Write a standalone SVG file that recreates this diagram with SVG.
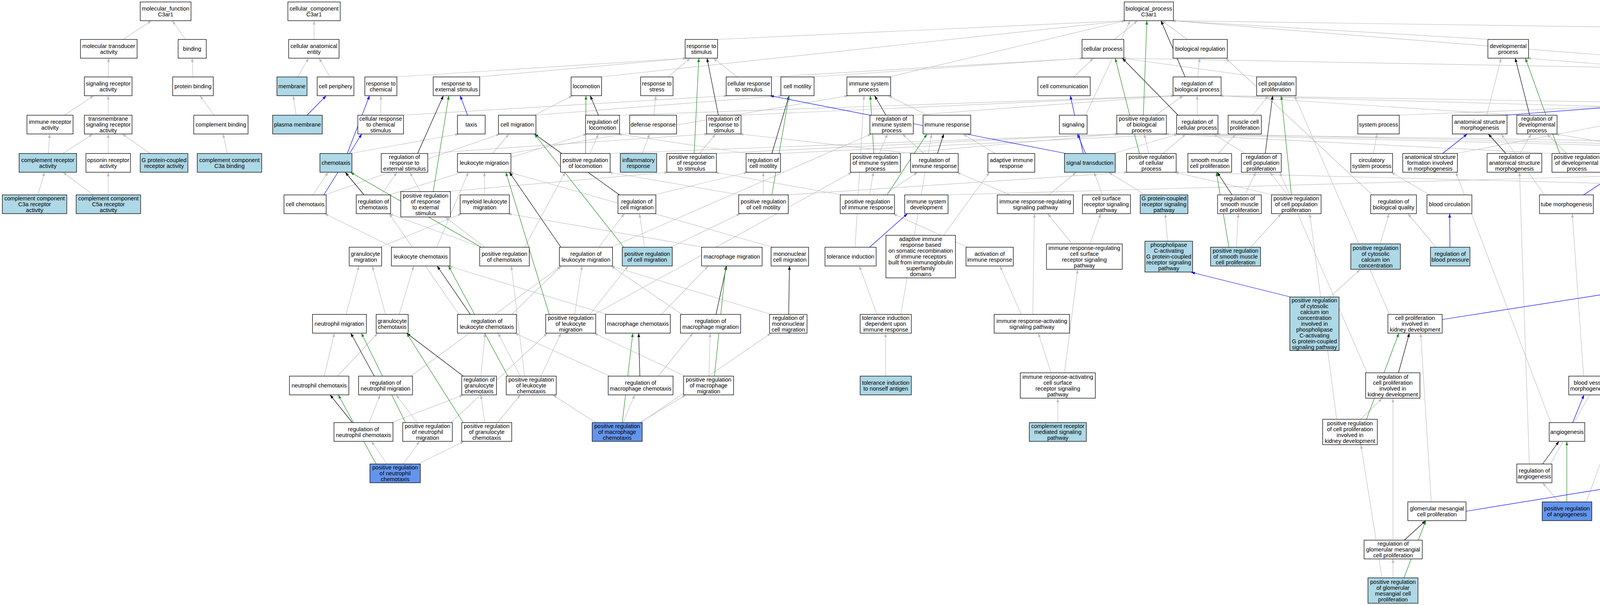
<svg xmlns="http://www.w3.org/2000/svg" width="7492" height="1549" viewBox="0 0 7492 1549">
<style>
text{font-family:"Liberation Sans",Arial,sans-serif;font-size:14.5px;text-anchor:middle;fill:#000}
.nodes rect{fill:#fff;stroke:#000;stroke-width:1.3}
.nodes rect.lb{fill:#ADD8E6}
.nodes rect.cb{fill:#6495ED}
#connectors path{fill:none;stroke-width:1.2}
.g path{stroke:#BEBEBE;marker-end:url(#ag)}
.k path{stroke:#000;marker-end:url(#ak)}
.p path{stroke:#228B22;marker-end:url(#ap)}
.b path{stroke:#0000FF;marker-end:url(#ab)}
</style>
<defs>
<marker id="ag" viewBox="0 0 10 7" refX="10" refY="3.5" markerWidth="10" markerHeight="7" markerUnits="userSpaceOnUse" orient="auto"><path d="M0,0L10,3.5L0,7z" fill="#BEBEBE"/></marker>
<marker id="ak" viewBox="0 0 10 7" refX="10" refY="3.5" markerWidth="10" markerHeight="7" markerUnits="userSpaceOnUse" orient="auto"><path d="M0,0L10,3.5L0,7z" fill="#000"/></marker>
<marker id="ap" viewBox="0 0 10 7" refX="10" refY="3.5" markerWidth="10" markerHeight="7" markerUnits="userSpaceOnUse" orient="auto"><path d="M0,0L10,3.5L0,7z" fill="#228B22"/></marker>
<marker id="ab" viewBox="0 0 10 7" refX="10" refY="3.5" markerWidth="10" markerHeight="7" markerUnits="userSpaceOnUse" orient="auto"><path d="M0,0L10,3.5L0,7z" fill="#0000FF"/></marker>
</defs>
<rect width="7492" height="1549" fill="#fff"/>
<g id="connectors">
<g class="g">
<path d="M315,101L388,53"/><path d="M475,101L441,53"/><path d="M277,197L278,149"/><path d="M494,197L492,149"/><path d="M804,101L804,53"/><path d="M762,197L790,149"/><path d="M845,197L817,149"/><path d="M165,295L240,245"/><path d="M277,295L277,245"/><path d="M548,295L512,245"/><path d="M758,295L751,245"/><path d="M975,295L975,245"/><path d="M124,393L127,343"/><path d="M161,393L238,343"/><path d="M277,393L277,343"/><path d="M384,393L313,343"/><path d="M582,393L571,343"/><path d="M97,499L114,441"/><path d="M239,499L161,441"/><path d="M277,499L277,441"/>
<path d="M1029,295L1863,245"/><path d="M1012,197L1758,149"/><path d="M1224,197L1758,149"/><path d="M1710,197L1767,149"/><path d="M1887,197L1826,149"/><path d="M1971,197L2774,149"/><path d="M897,393L1175,343"/><path d="M801,499L840,441"/><path d="M831,499L1280,343"/><path d="M1091,393L1813,343"/><path d="M976,499L1016,441"/><path d="M996,499L1503,343"/><path d="M1076,490L1049,441"/><path d="M1149,490L1711,441"/><path d="M1261,393L1303,343"/><path d="M1304,393L2172,245"/><path d="M1241,499L1240,441"/><path d="M973,633L1182,547"/><path d="M1118,633L1199,441"/><path d="M1006,633L831,547"/><path d="M1232,633L996,547"/><path d="M1241,633L1140,556"/><path d="M1343,633L1447,441"/><path d="M886,805L919,681"/><path d="M987,805L953,681"/><path d="M1022,805L1059,681"/><path d="M830,963L856,853"/><path d="M864,963L967,853"/><path d="M1310,805L1437,681"/><path d="M1175,805L996,547"/><path d="M1052,963L1436,681"/><path d="M1231,963L1242,853"/><path d="M945,1082L973,1011"/><path d="M1002,1082L1186,1011"/><path d="M1068,1082L1014,1011"/><path d="M1154,1082L1401,853"/><path d="M1241,1082L1231,1011"/><path d="M1274,1082L1332,1011"/><path d="M991,1188L951,1130"/><path d="M1032,1188L1074,1130"/><path d="M1070,1188L1188,1130"/>
<path d="M1833,101L2882,53"/><path d="M1536,197L2882,53"/><path d="M2080,197L2774,149"/><path d="M1368,295L2003,245"/><path d="M1368,295L1466,245"/><path d="M1582,295L3007,245"/><path d="M2276,197L2882,53"/><path d="M1674,295L1679,245"/><path d="M1893,295L3007,245"/><path d="M2334,295L3007,245"/><path d="M2374,295L2274,245"/><path d="M1510,393L1532,343"/><path d="M1558,393L2863,343"/><path d="M1644,393L1663,343"/><path d="M1791,393L1832,343"/><path d="M1830,393L2863,343"/><path d="M1914,393L1582,343"/><path d="M1994,393L3016,343"/><path d="M2251,393L2272,343"/><path d="M2301,393L2863,343"/><path d="M2365,393L2310,343"/><path d="M2335,393L1893,343"/><path d="M1675,499L1914,441"/><path d="M1954,499L1954,441"/><path d="M1895,499L1558,441"/><path d="M2014,499L2888,441"/><path d="M2263,499L2349,441"/><path d="M2226,499L2236,441"/><path d="M2155,499L1830,441"/><path d="M2423,499L4472,441"/><path d="M1533,633L1598,547"/><path d="M1564,633L2231,343"/><path d="M1650,633L1637,547"/><path d="M1717,633L1895,547"/><path d="M1800,633L1300,547"/><path d="M1978,633L1304,441"/><path d="M2189,633L2212,245"/><path d="M2415,603L2533,441"/><path d="M2477,633L2286,547"/><path d="M1471,805L1490,681"/><path d="M1510,805L1608,681"/><path d="M1521,805L2181,441"/><path d="M1693,805L1813,681"/><path d="M1554,805L1148,681"/><path d="M1746,805L1564,681"/><path d="M1974,805L1564,681"/><path d="M2245,805L2200,681"/><path d="M2306,805L2385,343"/><path d="M1332,963L1275,853"/><path d="M1385,963L1436,853"/><path d="M1343,963L1309,681"/><path d="M1685,963L1774,853"/><path d="M1561,963L1318,853"/><path d="M1815,963L1818,853"/><path d="M1754,963L1521,853"/><path d="M2267,963L2267,853"/><path d="M1595,1082L1625,1011"/><path d="M1638,1082L1756,1011"/><path d="M1525,1082L1415,1011"/><path d="M1640,1082L1974,853"/>
<path d="M2853,101L2912,53"/><path d="M3040,101L2974,53"/><path d="M3813,101L3000,53"/><path d="M6340,101L3000,53"/><path d="M4803,197L3000,53"/><path d="M2779,295L2893,53"/><path d="M3221,197L2873,149"/><path d="M2749,197L2799,149"/><path d="M3066,197L3071,149"/><path d="M2958,295L3029,245"/><path d="M3065,295L3065,245"/><path d="M3207,295L3247,245"/><path d="M3578,295L4803,245"/><path d="M3806,295L3843,149"/><path d="M2851,393L3016,343"/><path d="M2941,393L2929,343"/><path d="M2977,393L3036,343"/><path d="M3119,393L3164,343"/><path d="M3188,393L3106,343"/><path d="M3516,393L3525,343"/><path d="M3727,393L4505,245"/><path d="M2548,393L2465,343"/><path d="M2586,499L2449,441"/><path d="M2685,499L2755,441"/><path d="M2822,499L2801,441"/><path d="M2932,499L2838,441"/><path d="M3187,499L3215,441"/><path d="M3296,499L3251,441"/><path d="M3259,499L3007,441"/><path d="M3513,499L3138,149"/><path d="M3660,499L3561,441"/><path d="M2745,625L2682,547"/><path d="M2790,625L2818,547"/><path d="M2989,618L2983,547"/><path d="M3165,633L3170,547"/><path d="M3202,633L3280,547"/><path d="M3533,625L3556,547"/><path d="M3676,633L3604,547"/><path d="M3404,761L3482,690"/><path d="M2644,805L2648,547"/><path d="M2614,805L2560,681"/><path d="M2691,955L2658,853"/><path d="M2725,955L2759,690"/><path d="M2708,1082L2708,1020"/><path d="M3557,805L3314,245"/><path d="M3500,955L3276,441"/><path d="M3483,1074L3538,1020"/><path d="M3422,1074L3353,547"/><path d="M3664,1285L3637,853"/><path d="M3566,1383L3566,1020"/><path d="M3566,1480L3566,1431"/><path d="M3538,1480L3484,1139"/>
<path d="M4505,197L3909,149"/><path d="M3887,295L3122,245"/><path d="M4466,295L4536,245"/><path d="M4505,295L4803,245"/><path d="M4692,295L4612,245"/><path d="M4908,295L3122,245"/><path d="M3891,393L3920,343"/><path d="M4011,393L3960,343"/><path d="M3977,393L2982,343"/><path d="M4245,393L4505,245"/><path d="M4279,393L3982,343"/><path d="M4438,393L4908,343"/><path d="M4547,393L4563,245"/><path d="M4970,393L4970,343"/><path d="M4908,393L2982,343"/><path d="M3954,499L3843,343"/><path d="M4398,499L4492,441"/><path d="M4619,499L4566,441"/><path d="M4359,633L4508,245"/><path d="M4718,633L4728,343"/><path d="M4240,805L4319,441"/><path d="M4327,805L4232,441"/><path d="M4547,805L4359,681"/><path d="M4054,963L4025,547"/><path d="M4208,963L4203,853"/><path d="M4270,963L4908,441"/><path d="M4436,963L4526,245"/><path d="M4596,963L4591,853"/><path d="M4731,963L4624,245"/><path d="M3970,1082L3727,441"/><path d="M4390,1082L4390,1011"/><path d="M4582,1082L4593,1011"/><path d="M4524,1082L4411,853"/><path d="M3915,1188L3890,441"/><path d="M3969,1188L4159,853"/><path d="M4390,1188L4390,1130"/><path d="M3991,1285L3949,1236"/><path d="M4061,1285L4161,1011"/>
<path d="M5536,197L6340,149"/><path d="M5423,197L2873,149"/><path d="M6083,197L6340,149"/><path d="M5421,295L5460,245"/><path d="M5467,295L6005,245"/><path d="M5538,295L5499,245"/><path d="M5658,295L5536,245"/><path d="M5817,295L5536,245"/><path d="M5950,295L6691,245"/><path d="M6220,295L6379,245"/><path d="M5281,393L6253,343"/><path d="M5166,393L3114,343"/><path d="M5442,393L5519,343"/><path d="M5403,393L5402,343"/><path d="M5584,393L5673,343"/><path d="M5505,393L5436,343"/><path d="M5755,393L5841,343"/><path d="M5637,393L5467,343"/><path d="M5820,393L5616,343"/><path d="M5848,393L5761,343"/><path d="M5890,393L5886,343"/><path d="M5957,393L6089,343"/><path d="M6129,393L6256,343"/><path d="M6216,393L6174,343"/><path d="M6293,393L6405,343"/><path d="M5288,499L5245,441"/><path d="M5368,499L6345,441"/><path d="M5250,499L3007,441"/><path d="M5527,499L5281,441"/><path d="M5656,499L6049,441"/><path d="M5796,499L5860,441"/><path d="M5690,499L5442,441"/><path d="M5708,499L5595,441"/><path d="M5751,499L5725,441"/><path d="M5839,499L6162,441"/><path d="M5925,490L5281,441"/><path d="M6069,490L6650,441"/><path d="M6144,499L6107,441"/><path d="M6222,499L6345,441"/><path d="M5592,625L5592,547"/><path d="M5533,625L5368,547"/><path d="M5651,625L6103,547"/><path d="M5997,625L5997,556"/><path d="M5917,625L5368,547"/><path d="M6078,625L6256,556"/>
<path d="M6428,197L6408,149"/><path d="M6691,197L6457,149"/><path d="M6253,295L3122,245"/><path d="M6456,295L6443,245"/><path d="M6404,295L6083,245"/><path d="M6605,295L6457,149"/><path d="M7037,295L6496,245"/><path d="M6382,393L6335,343"/><path d="M6345,393L2982,343"/><path d="M6499,393L6370,343"/><path d="M6650,393L6370,343"/><path d="M6953,393L7049,343"/><path d="M6858,393L6519,343"/><path d="M6989,393L6370,343"/><path d="M7292,393L7155,343"/><path d="M6389,490L6650,441"/><path d="M6343,490L6384,441"/><path d="M6572,490L6989,441"/><path d="M6475,490L6129,441"/><path d="M6656,499L5964,441"/><path d="M6773,499L7037,343"/><path d="M6948,499L7014,441"/><path d="M6856,499L6465,441"/><path d="M7058,499L7051,441"/><path d="M7344,499L7344,441"/><path d="M6646,633L6692,547"/><path d="M6755,625L6572,556"/><path d="M6840,625L6890,547"/><path d="M6755,625L6222,547"/><path d="M7053,633L7059,547"/><path d="M7016,633L6949,547"/><path d="M7171,633L7098,547"/><path d="M7401,633L7363,547"/><path d="M6390,805L6576,681"/><path d="M6390,805L6858,441"/><path d="M6525,805L6069,556"/><path d="M7168,805L7195,681"/><path d="M7096,805L5033,441"/><path d="M7287,797L7234,681"/><path d="M6467,963L6537,853"/><path d="M6455,963L6500,556"/><path d="M6579,963L6575,853"/><path d="M6641,963L6856,547"/><path d="M7313,948L7313,861"/><path d="M7274,948L7195,853"/><path d="M6432,1082L6432,1011"/><path d="M6470,1082L6544,1011"/><path d="M6496,1082L6755,690"/><path d="M6369,1082L5651,690"/>
</g>
<g class="k">
<path d="M3034,197L2972,53"/><path d="M3016,295L2873,149"/><path d="M1069,393L1135,245"/><path d="M932,499L884,441"/><path d="M1204,805L1119,681"/><path d="M1186,963L1041,853"/><path d="M958,963L898,853"/><path d="M902,1082L845,1011"/><path d="M1532,295L1511,245"/><path d="M1839,295L1810,149"/><path d="M1976,393L2020,245"/><path d="M1586,499L1368,343"/><path d="M1436,633L1304,441"/><path d="M2268,295L2239,245"/><path d="M2400,393L2416,343"/><path d="M1833,805L1860,681"/><path d="M2019,805L2021,681"/><path d="M1638,963L1635,853"/><path d="M3239,393L3258,245"/><path d="M3154,499L3116,441"/><path d="M3580,955L3608,853"/><path d="M3595,1383L3650,1333"/><path d="M3916,295L3879,149"/><path d="M3855,393L3810,343"/><path d="M4376,393L4412,343"/><path d="M4944,295L4892,245"/><path d="M4230,805L4289,681"/><path d="M3949,1188L3991,1130"/><path d="M5281,393L5423,245"/><path d="M5544,499L5449,343"/><path d="M5971,490L5918,441"/><path d="M6078,393L6055,245"/><path d="M6333,295L6377,149"/><path d="M6584,393L6637,343"/><path d="M6722,393L6742,245"/><path d="M6572,490L6858,441"/><path d="M7059,393L7084,343"/><path d="M7113,499L7292,441"/><path d="M7241,633L7310,547"/><path d="M7340,797L7393,681"/><path d="M6585,805L6611,681"/><path d="M6408,963L6359,853"/>
</g>
<g class="p">
<path d="M2927,295L2936,53"/><path d="M2917,393L2855,149"/><path d="M1109,490L1149,245"/><path d="M1232,633L897,441"/><path d="M1300,963L1148,681"/><path d="M1186,1082L1041,853"/><path d="M1038,1082L925,853"/><path d="M963,1188L866,1011"/><path d="M1499,393L1500,245"/><path d="M1777,393L1789,149"/><path d="M1976,499L2020,245"/><path d="M1597,633L1368,343"/><path d="M1406,805L1295,441"/><path d="M2237,393L2228,245"/><path d="M2271,499L2373,343"/><path d="M1829,963L1858,681"/><path d="M1593,1082L1620,853"/><path d="M3306,499L3280,245"/><path d="M3146,633L3114,441"/><path d="M3498,1074L3581,853"/><path d="M3594,1480L3650,1333"/><path d="M3993,393L3905,149"/><path d="M4944,393L4892,245"/><path d="M4237,963L4291,681"/><path d="M4011,1285L4011,1130"/><path d="M5352,499L5437,245"/><path d="M5544,625L5449,343"/><path d="M5971,625L5918,441"/><path d="M6133,499L6074,245"/><path d="M6403,393L6400,149"/><path d="M6389,490L6691,245"/><path d="M6960,499L7051,343"/><path d="M6838,625L6884,441"/><path d="M7111,633L7292,441"/><path d="M7202,805L7297,547"/><path d="M7340,948L7393,681"/><path d="M6592,963L6613,681"/><path d="M6408,1082L6359,853"/>
</g>
<g class="b">
<path d="M786,295L835,245"/><path d="M1197,295L1178,245"/><path d="M889,393L946,245"/><path d="M829,499L926,343"/><path d="M2779,393L2758,343"/><path d="M2773,393L2740,245"/><path d="M2729,393L1971,245"/><path d="M2226,633L2323,547"/><path d="M3306,761L3049,697"/><path d="M3712,633L3711,547"/><path d="M3854,295L4505,245"/><path d="M3693,393L3756,343"/><path d="M4245,393L4370,343"/><path d="M4512,393L4458,343"/><path d="M4054,499L4142,441"/><path d="M4326,633L4343,547"/><path d="M4697,633L4663,547"/><path d="M4356,805L4331,681"/><path d="M4603,805L4632,547"/><path d="M4766,805L4731,681"/><path d="M4118,963L4327,853"/><path d="M4627,963L4685,681"/><path d="M4784,963L4784,853"/><path d="M4026,1082L4055,1011"/><path d="M4628,1082L4732,1011"/><path d="M4436,1188L4530,1130"/><path d="M3753,1309L4311,1218"/><path d="M3692,818L4644,670"/>
</g>
</g>
<g class="nodes">
<g id="mf"><rect x="359" y="5" width="130" height="48"/><text x="424" y="26.5">molecular_function<tspan x="424" dy="15">C3ar1</tspan></text></g>
<g id="cc"><rect x="737" y="5" width="134" height="48"/><text x="804" y="26.5">cellular_component<tspan x="804" dy="15">C3ar1</tspan></text></g>
<g id="mta"><rect x="206" y="101" width="145" height="48"/><text x="278.5" y="122.5">molecular transducer<tspan x="278.5" dy="15">activity</tspan></text></g>
<g id="bind"><rect x="456" y="101" width="72" height="48"/><text x="492" y="130">binding</text></g>
<g id="cae"><rect x="739" y="101" width="129" height="48"/><text x="803.5" y="122.5">cellular anatomical<tspan x="803.5" dy="15">entity</tspan></text></g>
<g id="sra"><rect x="216" y="197" width="122" height="48"/><text x="277" y="218.5">signaling receptor<tspan x="277" dy="15">activity</tspan></text></g>
<g id="pb"><rect x="442" y="197" width="104" height="48"/><text x="494" y="226">protein binding</text></g>
<g id="mem"><rect class="lb" x="709" y="197" width="77" height="48"/><text x="747.5" y="226">membrane</text></g>
<g id="cp"><rect x="812" y="197" width="94" height="48"/><text x="859" y="226">cell periphery</text></g>
<g id="rchem"><rect x="934" y="197" width="82" height="48"/><text x="975" y="218.5">response to<tspan x="975" dy="15">chemical</tspan></text></g>
<g id="rext"><rect x="1109" y="197" width="119" height="48"/><text x="1168.5" y="218.5">response to<tspan x="1168.5" dy="15">external stimulus</tspan></text></g>
<g id="ira"><rect x="69" y="295" width="118" height="48"/><text x="128" y="316.5">immune receptor<tspan x="128" dy="15">activity</tspan></text></g>
<g id="tsra"><rect x="216" y="295" width="122" height="48"/><text x="277" y="309">transmembrane<tspan x="277" dy="15">signaling receptor</tspan><tspan x="277" dy="15">activity</tspan></text></g>
<g id="cbind"><rect x="496" y="295" width="139" height="48"/><text x="565.5" y="324">complement binding</text></g>
<g id="pm"><rect class="lb" x="698" y="295" width="127" height="48"/><text x="761.5" y="324">plasma membrane</text></g>
<g id="crchem"><rect x="916" y="295" width="117" height="48"/><text x="974.5" y="309">cellular response<tspan x="974.5" dy="15">to chemical</tspan><tspan x="974.5" dy="15">stimulus</tspan></text></g>
<g id="taxis"><rect x="1171" y="295" width="71" height="48"/><text x="1206.5" y="324">taxis</text></g>
<g id="cra"><rect class="lb" x="49" y="393" width="147" height="48"/><text x="122.5" y="414.5">complement receptor<tspan x="122.5" dy="15">activity</tspan></text></g>
<g id="ora"><rect x="220" y="393" width="114" height="48"/><text x="277" y="414.5">opsonin receptor<tspan x="277" dy="15">activity</tspan></text></g>
<g id="gpcra"><rect class="lb" x="359" y="393" width="122" height="48"/><text x="420" y="414.5">G protein-coupled<tspan x="420" dy="15">receptor activity</tspan></text></g>
<g id="c3ab"><rect class="lb" x="505" y="393" width="165" height="48"/><text x="587.5" y="414.5">complement component<tspan x="587.5" dy="15">C3a binding</tspan></text></g>
<g id="chemo"><rect class="lb" x="819" y="393" width="82" height="48"/><text x="860" y="422">chemotaxis</text></g>
<g id="rrext"><rect x="976" y="393" width="119" height="48"/><text x="1035.5" y="407">regulation of<tspan x="1035.5" dy="15">response to</tspan><tspan x="1035.5" dy="15">external stimulus</tspan></text></g>
<g id="lmig"><rect x="1171" y="393" width="137" height="48"/><text x="1239.5" y="422">leukocyte migration</text></g>
<g id="c3ar"><rect class="lb" x="6" y="499" width="165" height="48"/><text x="88.5" y="513">complement component<tspan x="88.5" dy="15">C3a receptor</tspan><tspan x="88.5" dy="15">activity</tspan></text></g>
<g id="c5ar"><rect class="lb" x="195" y="499" width="165" height="48"/><text x="277.5" y="513">complement component<tspan x="277.5" dy="15">C5a receptor</tspan><tspan x="277.5" dy="15">activity</tspan></text></g>
<g id="cchemo"><rect x="727" y="499" width="108" height="48"/><text x="781" y="528">cell chemotaxis</text></g>
<g id="rchemo"><rect x="912" y="499" width="88" height="48"/><text x="956" y="520.5">regulation of<tspan x="956" dy="15">chemotaxis</tspan></text></g>
<g id="prrext"><rect x="1026" y="490.5" width="127" height="65"/><text x="1089.5" y="505.5">positive regulation<tspan x="1089.5" dy="15">of response</tspan><tspan x="1089.5" dy="15">to external</tspan><tspan x="1089.5" dy="15">stimulus</tspan></text></g>
<g id="mlmig"><rect x="1178" y="499" width="126" height="48"/><text x="1241" y="520.5">myeloid leukocyte<tspan x="1241" dy="15">migration</tspan></text></g>
<g id="gmig"><rect x="894" y="633" width="83" height="48"/><text x="935.5" y="654.5">granulocyte<tspan x="935.5" dy="15">migration</tspan></text></g>
<g id="lchemo"><rect x="1002" y="633" width="150" height="48"/><text x="1077" y="662">leukocyte chemotaxis</text></g>
<g id="prchemo"><rect x="1228" y="633" width="127" height="48"/><text x="1291.5" y="654.5">positive regulation<tspan x="1291.5" dy="15">of chemotaxis</tspan></text></g>
<g id="nmig"><rect x="800" y="805" width="138" height="48"/><text x="869" y="834">neutrophil migration</text></g>
<g id="gchemo"><rect x="963" y="805" width="82" height="48"/><text x="1004" y="826.5">granulocyte<tspan x="1004" dy="15">chemotaxis</tspan></text></g>
<g id="rlchemo"><rect x="1171" y="805" width="151" height="48"/><text x="1246.5" y="826.5">regulation of<tspan x="1246.5" dy="15">leukocyte chemotaxis</tspan></text></g>
<g id="nchemo"><rect x="741" y="963" width="152" height="48"/><text x="817" y="992">neutrophil chemotaxis</text></g>
<g id="rnmig"><rect x="918" y="963" width="138" height="48"/><text x="987" y="984.5">regulation of<tspan x="987" dy="15">neutrophil migration</tspan></text></g>
<g id="rgchemo"><rect x="1182" y="963" width="89" height="48"/><text x="1226.5" y="977">regulation of<tspan x="1226.5" dy="15">granulocyte</tspan><tspan x="1226.5" dy="15">chemotaxis</tspan></text></g>
<g id="rnchemo"><rect x="855" y="1082" width="151" height="48"/><text x="930.5" y="1103.5">regulation of<tspan x="930.5" dy="15">neutrophil chemotaxis</tspan></text></g>
<g id="prnmig"><rect x="1031" y="1082" width="127" height="48"/><text x="1094.5" y="1096">positive regulation<tspan x="1094.5" dy="15">of neutrophil</tspan><tspan x="1094.5" dy="15">migration</tspan></text></g>
<g id="prgchemo"><rect x="1182" y="1082" width="128" height="48"/><text x="1246" y="1096">positive regulation<tspan x="1246" dy="15">of granulocyte</tspan><tspan x="1246" dy="15">chemotaxis</tspan></text></g>
<g id="prnchemo"><rect class="cb" x="947" y="1188" width="129" height="48"/><text x="1011.5" y="1202">positive regulation<tspan x="1011.5" dy="15">of neutrophil</tspan><tspan x="1011.5" dy="15">chemotaxis</tspan></text></g>
<g id="rstim"><rect x="1754" y="101" width="83" height="48"/><text x="1795.5" y="122.5">response to<tspan x="1795.5" dy="15">stimulus</tspan></text></g>
<g id="loco"><rect x="1462" y="197" width="78" height="48"/><text x="1501" y="226">locomotion</text></g>
<g id="rstress"><rect x="1640" y="197" width="83" height="48"/><text x="1681.5" y="218.5">response to<tspan x="1681.5" dy="15">stress</tspan></text></g>
<g id="crstim"><rect x="1859" y="197" width="116" height="48"/><text x="1917" y="218.5">cellular response<tspan x="1917" dy="15">to stimulus</tspan></text></g>
<g id="cmot"><rect x="1999" y="197" width="85" height="48"/><text x="2041.5" y="226">cell motility</text></g>
<g id="isp"><rect x="2168" y="197" width="112" height="48"/><text x="2224" y="218.5">immune system<tspan x="2224" dy="15">process</tspan></text></g>
<g id="cmig"><rect x="1276" y="295" width="96" height="48"/><text x="1324" y="324">cell migration</text></g>
<g id="rloco"><rect x="1499" y="295" width="87" height="48"/><text x="1542.5" y="316.5">regulation of<tspan x="1542.5" dy="15">locomotion</tspan></text></g>
<g id="defr"><rect x="1612" y="295" width="120" height="48"/><text x="1672" y="324">defense response</text></g>
<g id="rrstim"><rect x="1809" y="295" width="88" height="48"/><text x="1853" y="309">regulation of<tspan x="1853" dy="15">response to</tspan><tspan x="1853" dy="15">stimulus</tspan></text></g>
<g id="risp"><rect x="2227" y="295" width="111" height="48"/><text x="2282.5" y="309">regulation of<tspan x="2282.5" dy="15">immune system</tspan><tspan x="2282.5" dy="15">process</tspan></text></g>
<g id="ir"><rect x="2363" y="295" width="122" height="48"/><text x="2424" y="324">immune response</text></g>
<g id="prloco"><rect x="1435" y="393" width="127" height="48"/><text x="1498.5" y="414.5">positive regulation<tspan x="1498.5" dy="15">of locomotion</tspan></text></g>
<g id="infl"><rect class="lb" x="1588" y="393" width="93" height="48"/><text x="1634.5" y="414.5">inflammatory<tspan x="1634.5" dy="15">response</tspan></text></g>
<g id="prrstim"><rect x="1707" y="393" width="127" height="48"/><text x="1770.5" y="407">positive regulation<tspan x="1770.5" dy="15">of response</tspan><tspan x="1770.5" dy="15">to stimulus</tspan></text></g>
<g id="rcmot"><rect x="1910" y="393" width="88" height="48"/><text x="1954" y="414.5">regulation of<tspan x="1954" dy="15">cell motility</tspan></text></g>
<g id="prisp"><rect x="2177" y="393" width="128" height="48"/><text x="2241" y="407">positive regulation<tspan x="2241" dy="15">of immune system</tspan><tspan x="2241" dy="15">process</tspan></text></g>
<g id="rir"><rect x="2331" y="393" width="122" height="48"/><text x="2392" y="414.5">regulation of<tspan x="2392" dy="15">immune response</tspan></text></g>
<g id="rcmig"><rect x="1582" y="499" width="97" height="48"/><text x="1630.5" y="520.5">regulation of<tspan x="1630.5" dy="15">cell migration</tspan></text></g>
<g id="prcmot"><rect x="1891" y="499" width="127" height="48"/><text x="1954.5" y="520.5">positive regulation<tspan x="1954.5" dy="15">of cell motility</tspan></text></g>
<g id="prir"><rect x="2151" y="499" width="139" height="48"/><text x="2220.5" y="520.5">positive regulation<tspan x="2220.5" dy="15">of immune response</tspan></text></g>
<g id="isd"><rect x="2316" y="499" width="111" height="48"/><text x="2371.5" y="520.5">immune system<tspan x="2371.5" dy="15">development</tspan></text></g>
<g id="rlmig"><rect x="1432" y="633" width="136" height="48"/><text x="1500" y="654.5">regulation of<tspan x="1500" dy="15">leukocyte migration</tspan></text></g>
<g id="prcmig"><rect class="lb" x="1593" y="633" width="128" height="48"/><text x="1657" y="654.5">positive regulation<tspan x="1657" dy="15">of cell migration</tspan></text></g>
<g id="mmig"><rect x="1796" y="633" width="155" height="48"/><text x="1873.5" y="662">macrophage migration</text></g>
<g id="mnmig"><rect x="1974" y="633" width="96" height="48"/><text x="2022" y="654.5">mononuclear<tspan x="2022" dy="15">cell migration</tspan></text></g>
<g id="tol"><rect x="2112" y="633" width="131" height="48"/><text x="2177.5" y="662">tolerance induction</text></g>
<g id="airsom"><rect x="2268" y="602.5" width="178" height="109"/><text x="2357" y="617">adaptive immune<tspan x="2357" dy="15">response based</tspan><tspan x="2357" dy="15">on somatic recombination</tspan><tspan x="2357" dy="15">of immune receptors</tspan><tspan x="2357" dy="15">built from immunoglobulin</tspan><tspan x="2357" dy="15">superfamily</tspan><tspan x="2357" dy="15">domains</tspan></text></g>
<g id="airact"><rect x="2473" y="633" width="121" height="48"/><text x="2533.5" y="654.5">activation of<tspan x="2533.5" dy="15">immune response</tspan></text></g>
<g id="prlmig"><rect x="1397" y="805" width="128" height="48"/><text x="1461" y="819">positive regulation<tspan x="1461" dy="15">of leukocyte</tspan><tspan x="1461" dy="15">migration</tspan></text></g>
<g id="mchemo"><rect x="1550" y="805" width="166" height="48"/><text x="1633" y="834">macrophage chemotaxis</text></g>
<g id="rmmig"><rect x="1742" y="805" width="154" height="48"/><text x="1819" y="826.5">regulation of<tspan x="1819" dy="15">macrophage migration</tspan></text></g>
<g id="rmnmig"><rect x="1970" y="805" width="96" height="48"/><text x="2018" y="819">regulation of<tspan x="2018" dy="15">mononuclear</tspan><tspan x="2018" dy="15">cell migration</tspan></text></g>
<g id="toldep"><rect x="2202" y="805" width="131" height="48"/><text x="2267.5" y="819">tolerance induction<tspan x="2267.5" dy="15">dependent upon</tspan><tspan x="2267.5" dy="15">immune response</tspan></text></g>
<g id="prlchemo"><rect x="1296" y="963" width="128" height="48"/><text x="1360" y="977">positive regulation<tspan x="1360" dy="15">of leukocyte</tspan><tspan x="1360" dy="15">chemotaxis</tspan></text></g>
<g id="rmchemo"><rect x="1557" y="963" width="166" height="48"/><text x="1640" y="984.5">regulation of<tspan x="1640" dy="15">macrophage chemotaxis</tspan></text></g>
<g id="prmmig"><rect x="1750" y="963" width="128" height="48"/><text x="1814" y="977">positive regulation<tspan x="1814" dy="15">of macrophage</tspan><tspan x="1814" dy="15">migration</tspan></text></g>
<g id="tolns"><rect class="lb" x="2202" y="963" width="131" height="48"/><text x="2267.5" y="984.5">tolerance induction<tspan x="2267.5" dy="15">to nonself antigen</tspan></text></g>
<g id="prmchemo"><rect class="cb" x="1516" y="1082" width="128" height="48"/><text x="1580" y="1096">positive regulation<tspan x="1580" dy="15">of macrophage</tspan><tspan x="1580" dy="15">chemotaxis</tspan></text></g>
<g id="bp"><rect x="2878" y="5" width="126" height="48"/><text x="2941" y="26.5">biological_process<tspan x="2941" dy="15">C3ar1</tspan></text></g>
<g id="cellp"><rect x="2770" y="101" width="107" height="48"/><text x="2823.5" y="130">cellular process</text></g>
<g id="bioreg"><rect x="3003" y="101" width="139" height="48"/><text x="3072.5" y="130">biological regulation</text></g>
<g id="ccomm"><rect x="2657" y="197" width="134" height="48"/><text x="2724" y="226">cell communication</text></g>
<g id="rbp"><rect x="3003" y="197" width="123" height="48"/><text x="3064.5" y="218.5">regulation of<tspan x="3064.5" dy="15">biological process</tspan></text></g>
<g id="cpp"><rect x="3217" y="197" width="101" height="48"/><text x="3267.5" y="218.5">cell population<tspan x="3267.5" dy="15">proliferation</tspan></text></g>
<g id="sig"><rect x="2712" y="295" width="71" height="48"/><text x="2747.5" y="324">signaling</text></g>
<g id="prbp"><rect x="2859" y="295" width="127" height="48"/><text x="2922.5" y="309">positive regulation<tspan x="2922.5" dy="15">of biological</tspan><tspan x="2922.5" dy="15">process</tspan></text></g>
<g id="rcellp"><rect x="3012" y="295" width="106" height="48"/><text x="3065" y="316.5">regulation of<tspan x="3065" dy="15">cellular process</tspan></text></g>
<g id="mcp"><rect x="3144" y="295" width="85" height="48"/><text x="3186.5" y="316.5">muscle cell<tspan x="3186.5" dy="15">proliferation</tspan></text></g>
<g id="sysp"><rect x="3476" y="295" width="106" height="48"/><text x="3529" y="324">system process</text></g>
<g id="asm"><rect x="3718" y="295" width="140" height="48"/><text x="3788" y="316.5">anatomical structure<tspan x="3788" dy="15">morphogenesis</tspan></text></g>
<g id="air"><rect x="2529" y="393" width="120" height="48"/><text x="2589" y="414.5">adaptive immune<tspan x="2589" dy="15">response</tspan></text></g>
<g id="st"><rect class="lb" x="2725" y="393" width="130" height="48"/><text x="2790" y="422">signal transduction</text></g>
<g id="prcellp"><rect x="2884" y="393" width="127" height="48"/><text x="2947.5" y="407">positive regulation<tspan x="2947.5" dy="15">of cellular</tspan><tspan x="2947.5" dy="15">process</tspan></text></g>
<g id="smcp"><rect x="3041" y="393" width="112" height="48"/><text x="3097" y="414.5">smooth muscle<tspan x="3097" dy="15">cell proliferation</tspan></text></g>
<g id="rcpp"><rect x="3178" y="393" width="102" height="48"/><text x="3229" y="407">regulation of<tspan x="3229" dy="15">cell population</tspan><tspan x="3229" dy="15">proliferation</tspan></text></g>
<g id="csp"><rect x="3458" y="393" width="107" height="48"/><text x="3511.5" y="414.5">circulatory<tspan x="3511.5" dy="15">system process</tspan></text></g>
<g id="asfm"><rect x="3591" y="393" width="140" height="48"/><text x="3661" y="407">anatomical structure<tspan x="3661" dy="15">formation involved</tspan><tspan x="3661" dy="15">in morphogenesis</tspan></text></g>
<g id="irrsp"><rect x="2553" y="499" width="195" height="48"/><text x="2650.5" y="520.5">immune response-regulating<tspan x="2650.5" dy="15">signaling pathway</tspan></text></g>
<g id="csrsp"><rect x="2771" y="499" width="123" height="48"/><text x="2832.5" y="513">cell surface<tspan x="2832.5" dy="15">receptor signaling</tspan><tspan x="2832.5" dy="15">pathway</tspan></text></g>
<g id="gpcrsp"><rect class="lb" x="2919" y="499" width="122" height="48"/><text x="2980" y="513">G protein-coupled<tspan x="2980" dy="15">receptor signaling</tspan><tspan x="2980" dy="15">pathway</tspan></text></g>
<g id="rsmcp"><rect x="3117" y="499" width="112" height="48"/><text x="3173" y="513">regulation of<tspan x="3173" dy="15">smooth muscle</tspan><tspan x="3173" dy="15">cell proliferation</tspan></text></g>
<g id="prcpp"><rect x="3255" y="499" width="127" height="48"/><text x="3318.5" y="513">positive regulation<tspan x="3318.5" dy="15">of cell population</tspan><tspan x="3318.5" dy="15">proliferation</tspan></text></g>
<g id="rbq"><rect x="3509" y="499" width="117" height="48"/><text x="3567.5" y="520.5">regulation of<tspan x="3567.5" dy="15">biological quality</tspan></text></g>
<g id="bcirc"><rect x="3653" y="499" width="115" height="48"/><text x="3710.5" y="528">blood circulation</text></g>
<g id="irrcs"><rect x="2679" y="624.5" width="194" height="65"/><text x="2776" y="639.5">immune response-regulating<tspan x="2776" dy="15">cell surface</tspan><tspan x="2776" dy="15">receptor signaling</tspan><tspan x="2776" dy="15">pathway</tspan></text></g>
<g id="plc"><rect class="lb" x="2931" y="617.5" width="122" height="79"/><text x="2992" y="632">phospholipase<tspan x="2992" dy="15">C-activating</tspan><tspan x="2992" dy="15">G protein-coupled</tspan><tspan x="2992" dy="15">receptor signaling</tspan><tspan x="2992" dy="15">pathway</tspan></text></g>
<g id="prsmcp"><rect class="lb" x="3099" y="633" width="128" height="48"/><text x="3163" y="647">positive regulation<tspan x="3163" dy="15">of smooth muscle</tspan><tspan x="3163" dy="15">cell proliferation</tspan></text></g>
<g id="prcca"><rect class="lb" x="3458" y="624.5" width="127" height="65"/><text x="3521.5" y="639.5">positive regulation<tspan x="3521.5" dy="15">of cytosolic</tspan><tspan x="3521.5" dy="15">calcium ion</tspan><tspan x="3521.5" dy="15">concentration</tspan></text></g>
<g id="rbpr"><rect class="lb" x="3662" y="633" width="101" height="48"/><text x="3712.5" y="654.5">regulation of<tspan x="3712.5" dy="15">blood pressure</tspan></text></g>
<g id="prccaplc"><rect class="lb" x="3302" y="760.5" width="126" height="137"/><text x="3365" y="774">positive regulation<tspan x="3365" dy="15">of cytosolic</tspan><tspan x="3365" dy="15">calcium ion</tspan><tspan x="3365" dy="15">concentration</tspan><tspan x="3365" dy="15">involved in</tspan><tspan x="3365" dy="15">phospholipase</tspan><tspan x="3365" dy="15">C-activating</tspan><tspan x="3365" dy="15">G protein-coupled</tspan><tspan x="3365" dy="15">signaling pathway</tspan></text></g>
<g id="iras"><rect x="2545" y="805" width="193" height="48"/><text x="2641.5" y="826.5">immune response-activating<tspan x="2641.5" dy="15">signaling pathway</tspan></text></g>
<g id="cpkd"><rect x="3553" y="805" width="139" height="48"/><text x="3622.5" y="819">cell proliferation<tspan x="3622.5" dy="15">involved in</tspan><tspan x="3622.5" dy="15">kidney development</tspan></text></g>
<g id="iracs"><rect x="2612" y="954.5" width="192" height="65"/><text x="2708" y="969.5">immune response-activating<tspan x="2708" dy="15">cell surface</tspan><tspan x="2708" dy="15">receptor signaling</tspan><tspan x="2708" dy="15">pathway</tspan></text></g>
<g id="rcpkd"><rect x="3496" y="954.5" width="139" height="65"/><text x="3565.5" y="969.5">regulation of<tspan x="3565.5" dy="15">cell proliferation</tspan><tspan x="3565.5" dy="15">involved in</tspan><tspan x="3565.5" dy="15">kidney development</tspan></text></g>
<g id="crmsp"><rect class="lb" x="2635" y="1082" width="146" height="48"/><text x="2708" y="1096">complement receptor<tspan x="2708" dy="15">mediated signaling</tspan><tspan x="2708" dy="15">pathway</tspan></text></g>
<g id="prcpkd"><rect x="3386" y="1073.5" width="140" height="65"/><text x="3456" y="1088.5">positive regulation<tspan x="3456" dy="15">of cell proliferation</tspan><tspan x="3456" dy="15">involved in</tspan><tspan x="3456" dy="15">kidney development</tspan></text></g>
<g id="gmcp"><rect x="3604" y="1285" width="149" height="48"/><text x="3678.5" y="1306.5">glomerular mesangial<tspan x="3678.5" dy="15">cell proliferation</tspan></text></g>
<g id="rgmcp"><rect x="3492" y="1383" width="149" height="48"/><text x="3566.5" y="1397">regulation of<tspan x="3566.5" dy="15">glomerular mesangial</tspan><tspan x="3566.5" dy="15">cell proliferation</tspan></text></g>
<g id="prgmcp"><rect class="lb" x="3502" y="1479.5" width="128" height="65"/><text x="3566" y="1494.5">positive regulation<tspan x="3566" dy="15">of glomerular</tspan><tspan x="3566" dy="15">mesangial cell</tspan><tspan x="3566" dy="15">proliferation</tspan></text></g>
<g id="devp"><rect x="3809" y="101" width="104" height="48"/><text x="3861" y="122.5">developmental<tspan x="3861" dy="15">process</tspan></text></g>
<g id="asd"><rect x="4501" y="197" width="141" height="48"/><text x="4571.5" y="218.5">anatomical structure<tspan x="4571.5" dy="15">development</tspan></text></g>
<g id="mop"><rect x="4799" y="197" width="133" height="48"/><text x="4865.5" y="218.5">multicellular<tspan x="4865.5" dy="15">organismal process</tspan></text></g>
<g id="rdevp"><rect x="3883" y="295" width="103" height="48"/><text x="3934.5" y="309">regulation of<tspan x="3934.5" dy="15">developmental</tspan><tspan x="3934.5" dy="15">process</tspan></text></g>
<g id="mod"><rect x="4352" y="295" width="157" height="48"/><text x="4430.5" y="316.5">multicellular<tspan x="4430.5" dy="15">organism development</tspan></text></g>
<g id="aod"><rect x="4687" y="295" width="91" height="48"/><text x="4732.5" y="316.5">animal organ<tspan x="4732.5" dy="15">development</tspan></text></g>
<g id="rmop"><rect x="4904" y="295" width="133" height="48"/><text x="4970.5" y="309">regulation of<tspan x="4970.5" dy="15">multicellular</tspan><tspan x="4970.5" dy="15">organismal process</tspan></text></g>
<g id="rasm"><rect x="3807" y="393" width="140" height="48"/><text x="3877" y="407">regulation of<tspan x="3877" dy="15">anatomical structure</tspan><tspan x="3877" dy="15">morphogenesis</tspan></text></g>
<g id="prdevp"><rect x="3973" y="393" width="127" height="48"/><text x="4036.5" y="407">positive regulation<tspan x="4036.5" dy="15">of developmental</tspan><tspan x="4036.5" dy="15">process</tspan></text></g>
<g id="tubed"><rect x="4124" y="393" width="125" height="48"/><text x="4186.5" y="422">tube development</text></g>
<g id="rmod"><rect x="4275" y="393" width="167" height="48"/><text x="4358.5" y="407">regulation of<tspan x="4358.5" dy="15">multicellular</tspan><tspan x="4358.5" dy="15">organismal development</tspan></text></g>
<g id="sysd"><rect x="4468" y="393" width="143" height="48"/><text x="4539.5" y="422">system development</text></g>
<g id="prmop"><rect x="4904" y="393" width="133" height="48"/><text x="4970.5" y="407">positive regulation<tspan x="4970.5" dy="15">of multicellular</tspan><tspan x="4970.5" dy="15">organismal process</tspan></text></g>
<g id="tubem"><rect x="3941" y="499" width="138" height="48"/><text x="4010" y="528">tube morphogenesis</text></g>
<g id="csd"><rect x="4280" y="499" width="143" height="48"/><text x="4351.5" y="520.5">circulatory<tspan x="4351.5" dy="15">system development</tspan></text></g>
<g id="rsd"><rect x="4601" y="499" width="91" height="48"/><text x="4646.5" y="520.5">renal system<tspan x="4646.5" dy="15">development</tspan></text></g>
<g id="vascd"><rect x="4273" y="633" width="90" height="48"/><text x="4318" y="654.5">vasculature<tspan x="4318" dy="15">development</tspan></text></g>
<g id="kidd"><rect x="4644" y="633" width="139" height="48"/><text x="4713.5" y="662">kidney development</text></g>
<g id="rvascd"><rect x="4155" y="805" width="92" height="48"/><text x="4201" y="819">regulation of<tspan x="4201" dy="15">vasculature</tspan><tspan x="4201" dy="15">development</tspan></text></g>
<g id="bvd"><rect x="4323" y="805" width="92" height="48"/><text x="4369" y="826.5">blood vessel<tspan x="4369" dy="15">development</tspan></text></g>
<g id="rsvd"><rect x="4543" y="805" width="91" height="48"/><text x="4588.5" y="819">renal system<tspan x="4588.5" dy="15">vasculature</tspan><tspan x="4588.5" dy="15">development</tspan></text></g>
<g id="nephd"><rect x="4709" y="805" width="149" height="48"/><text x="4783.5" y="834">nephron development</text></g>
<g id="bvm"><rect x="4016" y="963" width="106" height="48"/><text x="4069" y="984.5">blood vessel<tspan x="4069" dy="15">morphogenesis</tspan></text></g>
<g id="prvascd"><rect x="4147" y="963" width="127" height="48"/><text x="4210.5" y="977">positive regulation<tspan x="4210.5" dy="15">of vasculature</tspan><tspan x="4210.5" dy="15">development</tspan></text></g>
<g id="tisd"><rect x="4324" y="963" width="133" height="48"/><text x="4390.5" y="992">tissue development</text></g>
<g id="kvd"><rect x="4533" y="963" width="131" height="48"/><text x="4598.5" y="984.5">kidney vasculature<tspan x="4598.5" dy="15">development</tspan></text></g>
<g id="glomd"><rect x="4700" y="963" width="168" height="48"/><text x="4784" y="992">glomerulus development</text></g>
<g id="angio"><rect x="3966" y="1082" width="91" height="48"/><text x="4011.5" y="1111">angiogenesis</text></g>
<g id="ctd"><rect x="4331" y="1082" width="119" height="48"/><text x="4390.5" y="1103.5">connective tissue<tspan x="4390.5" dy="15">development</tspan></text></g>
<g id="gvd"><rect x="4497" y="1082" width="158" height="48"/><text x="4576" y="1103.5">glomerulus vasculature<tspan x="4576" dy="15">development</tspan></text></g>
<g id="rangio"><rect x="3883" y="1188" width="90" height="48"/><text x="3928" y="1209.5">regulation of<tspan x="3928" dy="15">angiogenesis</tspan></text></g>
<g id="gmd"><rect x="4311" y="1188" width="158" height="48"/><text x="4390" y="1209.5">glomerular mesangium<tspan x="4390" dy="15">development</tspan></text></g>
<g id="prangio"><rect class="cb" x="3948" y="1285" width="127" height="48"/><text x="4011.5" y="1306.5">positive regulation<tspan x="4011.5" dy="15">of angiogenesis</tspan></text></g>
<g id="cmp"><rect x="5419" y="197" width="121" height="48"/><text x="5479.5" y="218.5">cellular metabolic<tspan x="5479.5" dy="15">process</tspan></text></g>
<g id="bsp"><rect x="6001" y="197" width="86" height="48"/><text x="6044" y="218.5">biosynthetic<tspan x="6044" dy="15">process</tspan></text></g>
<g id="cbsp"><rect x="5333" y="295" width="138" height="48"/><text x="5402" y="316.5">cellular biosynthetic<tspan x="5402" dy="15">process</tspan></text></g>
<g id="hmp"><rect x="5496" y="295" width="124" height="48"/><text x="5558" y="316.5">heterocycle<tspan x="5558" dy="15">metabolic process</tspan></text></g>
<g id="cacmp"><rect x="5647" y="295" width="141" height="48"/><text x="5717.5" y="309">cellular aromatic<tspan x="5717.5" dy="15">compound metabolic</tspan><tspan x="5717.5" dy="15">process</tspan></text></g>
<g id="cncmp"><rect x="5813" y="295" width="141" height="48"/><text x="5883.5" y="309">cellular nitrogen<tspan x="5883.5" dy="15">compound metabolic</tspan><tspan x="5883.5" dy="15">process</tspan></text></g>
<g id="occmp"><rect x="6083" y="295" width="141" height="48"/><text x="6153.5" y="309">organic cyclic<tspan x="6153.5" dy="15">compound metabolic</tspan><tspan x="6153.5" dy="15">process</tspan></text></g>
<g id="rcmp"><rect x="5162" y="393" width="123" height="48"/><text x="5223.5" y="407">regulation of<tspan x="5223.5" dy="15">cellular metabolic</tspan><tspan x="5223.5" dy="15">process</tspan></text></g>
<g id="hbsp"><rect x="5361" y="393" width="85" height="48"/><text x="5403.5" y="407">heterocycle<tspan x="5403.5" dy="15">biosynthetic</tspan><tspan x="5403.5" dy="15">process</tspan></text></g>
<g id="acbsp"><rect x="5472" y="393" width="135" height="48"/><text x="5539.5" y="407">aromatic compound<tspan x="5539.5" dy="15">biosynthetic</tspan><tspan x="5539.5" dy="15">process</tspan></text></g>
<g id="cncbsp"><rect x="5633" y="393" width="158" height="48"/><text x="5712" y="407">cellular nitrogen<tspan x="5712" dy="15">compound biosynthetic</tspan><tspan x="5712" dy="15">process</tspan></text></g>
<g id="ncmp"><rect x="5816" y="393" width="152" height="48"/><text x="5892" y="407">nucleobase-containing<tspan x="5892" dy="15">compound metabolic</tspan><tspan x="5892" dy="15">process</tspan></text></g>
<g id="rbsp"><rect x="6045" y="393" width="88" height="48"/><text x="6089" y="407">regulation of<tspan x="6089" dy="15">biosynthetic</tspan><tspan x="6089" dy="15">process</tspan></text></g>
<g id="occbsp"><rect x="6158" y="393" width="158" height="48"/><text x="6237" y="407">organic cyclic<tspan x="6237" dy="15">compound biosynthetic</tspan><tspan x="6237" dy="15">process</tspan></text></g>
<g id="prcmp"><rect x="5246" y="499" width="126" height="48"/><text x="5309" y="513">positive regulation<tspan x="5309" dy="15">of cellular</tspan><tspan x="5309" dy="15">metabolic process</tspan></text></g>
<g id="rcbsp"><rect x="5523" y="499" width="137" height="48"/><text x="5591.5" y="513">regulation of<tspan x="5591.5" dy="15">cellular biosynthetic</tspan><tspan x="5591.5" dy="15">process</tspan></text></g>
<g id="ncbsp"><rect x="5686" y="499" width="157" height="48"/><text x="5764.5" y="513">nucleobase-containing<tspan x="5764.5" dy="15">compound biosynthetic</tspan><tspan x="5764.5" dy="15">process</tspan></text></g>
<g id="rncmp"><rect x="5921" y="490.5" width="152" height="65"/><text x="5997" y="505.5">regulation of<tspan x="5997" dy="15">nucleobase-containing</tspan><tspan x="5997" dy="15">compound metabolic</tspan><tspan x="5997" dy="15">process</tspan></text></g>
<g id="prbsp"><rect x="6099" y="499" width="127" height="48"/><text x="6162.5" y="513">positive regulation<tspan x="6162.5" dy="15">of biosynthetic</tspan><tspan x="6162.5" dy="15">process</tspan></text></g>
<g id="prcbsp"><rect x="5529" y="624.5" width="126" height="65"/><text x="5592" y="639.5">positive regulation<tspan x="5592" dy="15">of cellular</tspan><tspan x="5592" dy="15">biosynthetic</tspan><tspan x="5592" dy="15">process</tspan></text></g>
<g id="prncmp"><rect x="5913" y="624.5" width="169" height="65"/><text x="5997.5" y="639.5">positive regulation<tspan x="5997.5" dy="15">of nucleobase-containing</tspan><tspan x="5997.5" dy="15">compound metabolic</tspan><tspan x="5997.5" dy="15">process</tspan></text></g>
<g id="mp"><rect x="6336" y="101" width="125" height="48"/><text x="6398.5" y="130">metabolic process</text></g>
<g id="osmp"><rect x="6375" y="197" width="125" height="48"/><text x="6437.5" y="218.5">organic substance<tspan x="6437.5" dy="15">metabolic process</tspan></text></g>
<g id="ncomp"><rect x="6687" y="197" width="131" height="48"/><text x="6752.5" y="218.5">nitrogen compound<tspan x="6752.5" dy="15">metabolic process</tspan></text></g>
<g id="rmp"><rect x="6249" y="295" width="125" height="48"/><text x="6311.5" y="316.5">regulation of<tspan x="6311.5" dy="15">metabolic process</tspan></text></g>
<g id="osbsp"><rect x="6400" y="295" width="123" height="48"/><text x="6461.5" y="309">organic substance<tspan x="6461.5" dy="15">biosynthetic</tspan><tspan x="6461.5" dy="15">process</tspan></text></g>
<g id="pmp"><rect x="6601" y="295" width="126" height="48"/><text x="6664" y="316.5">primary metabolic<tspan x="6664" dy="15">process</tspan></text></g>
<g id="mmp"><rect x="7033" y="295" width="126" height="48"/><text x="7096" y="316.5">macromolecule<tspan x="7096" dy="15">metabolic process</tspan></text></g>
<g id="prmp"><rect x="6341" y="393" width="128" height="48"/><text x="6405" y="407">positive regulation<tspan x="6405" dy="15">of metabolic</tspan><tspan x="6405" dy="15">process</tspan></text></g>
<g id="rpmp"><rect x="6495" y="393" width="126" height="48"/><text x="6558" y="407">regulation of<tspan x="6558" dy="15">primary metabolic</tspan><tspan x="6558" dy="15">process</tspan></text></g>
<g id="rncomp"><rect x="6646" y="393" width="131" height="48"/><text x="6711.5" y="407">regulation of<tspan x="6711.5" dy="15">nitrogen compound</tspan><tspan x="6711.5" dy="15">metabolic process</tspan></text></g>
<g id="mbsp"><rect x="6854" y="393" width="105" height="48"/><text x="6906.5" y="407">macromolecule<tspan x="6906.5" dy="15">biosynthetic</tspan><tspan x="6906.5" dy="15">process</tspan></text></g>
<g id="rmmp"><rect x="6985" y="393" width="124" height="48"/><text x="7047" y="407">regulation of<tspan x="7047" dy="15">macromolecule</tspan><tspan x="7047" dy="15">metabolic process</tspan></text></g>
<g id="ge"><rect x="7288" y="393" width="112" height="48"/><text x="7344" y="422">gene expression</text></g>
<g id="prncomp"><rect x="6252" y="490.5" width="141" height="65"/><text x="6322.5" y="505.5">positive regulation<tspan x="6322.5" dy="15">of nitrogen</tspan><tspan x="6322.5" dy="15">compound metabolic</tspan><tspan x="6322.5" dy="15">process</tspan></text></g>
<g id="rmbsp"><rect x="6471" y="490.5" width="105" height="65"/><text x="6523.5" y="505.5">regulation of<tspan x="6523.5" dy="15">macromolecule</tspan><tspan x="6523.5" dy="15">biosynthetic</tspan><tspan x="6523.5" dy="15">process</tspan></text></g>
<g id="namp"><rect x="6652" y="499" width="125" height="48"/><text x="6714.5" y="520.5">nucleic acid<tspan x="6714.5" dy="15">metabolic process</tspan></text></g>
<g id="prmmp"><rect x="6852" y="499" width="127" height="48"/><text x="6915.5" y="513">positive regulation<tspan x="6915.5" dy="15">of macromolecule</tspan><tspan x="6915.5" dy="15">metabolic process</tspan></text></g>
<g id="rge"><rect x="7006" y="499" width="111" height="48"/><text x="7061.5" y="520.5">regulation of<tspan x="7061.5" dy="15">gene expression</tspan></text></g>
<g id="cytp"><rect x="7277" y="499" width="134" height="48"/><text x="7344" y="528">cytokine production</text></g>
<g id="dnamp"><rect x="6572" y="633" width="103" height="48"/><text x="6623.5" y="654.5">DNA metabolic<tspan x="6623.5" dy="15">process</tspan></text></g>
<g id="prmbsp"><rect x="6751" y="624.5" width="128" height="65"/><text x="6815" y="639.5">positive regulation<tspan x="6815" dy="15">of macromolecule</tspan><tspan x="6815" dy="15">biosynthetic</tspan><tspan x="6815" dy="15">process</tspan></text></g>
<g id="prge"><rect x="6985" y="633" width="130" height="48"/><text x="7050" y="654.5">positive regulation<tspan x="7050" dy="15">of gene expression</tspan></text></g>
<g id="rcytp"><rect x="7141" y="633" width="133" height="48"/><text x="7207.5" y="654.5">regulation of<tspan x="7207.5" dy="15">cytokine production</tspan></text></g>
<g id="vegfp"><rect x="7351" y="633" width="138" height="48"/><text x="7420" y="647">vascular endothelial<tspan x="7420" dy="15">growth factor</tspan><tspan x="7420" dy="15">production</tspan></text></g>
<g id="dnabsp"><rect x="6276" y="805" width="118" height="48"/><text x="6335" y="826.5">DNA biosynthetic<tspan x="6335" dy="15">process</tspan></text></g>
<g id="rdnamp"><rect x="6521" y="805" width="103" height="48"/><text x="6572.5" y="819">regulation of<tspan x="6572.5" dy="15">DNA metabolic</tspan><tspan x="6572.5" dy="15">process</tspan></text></g>
<g id="prcytp"><rect x="7092" y="805" width="127" height="48"/><text x="7155.5" y="819">positive regulation<tspan x="7155.5" dy="15">of cytokine</tspan><tspan x="7155.5" dy="15">production</tspan></text></g>
<g id="rvegfp"><rect x="7244" y="796.5" width="139" height="65"/><text x="7313.5" y="811.5">regulation of<tspan x="7313.5" dy="15">vascular endothelial</tspan><tspan x="7313.5" dy="15">growth factor</tspan><tspan x="7313.5" dy="15">production</tspan></text></g>
<g id="rdnabsp"><rect x="6373" y="963" width="118" height="48"/><text x="6432" y="977">regulation of<tspan x="6432" dy="15">DNA biosynthetic</tspan><tspan x="6432" dy="15">process</tspan></text></g>
<g id="prdnamp"><rect x="6517" y="963" width="128" height="48"/><text x="6581" y="977">positive regulation<tspan x="6581" dy="15">of DNA metabolic</tspan><tspan x="6581" dy="15">process</tspan></text></g>
<g id="prvegfp"><rect class="cb" x="7250" y="947.5" width="127" height="79"/><text x="7313.5" y="962">positive regulation<tspan x="7313.5" dy="15">of vascular</tspan><tspan x="7313.5" dy="15">endothelial</tspan><tspan x="7313.5" dy="15">growth factor</tspan><tspan x="7313.5" dy="15">production</tspan></text></g>
<g id="prdnabsp"><rect class="lb" x="6365" y="1082" width="135" height="48"/><text x="6432.5" y="1096">positive regulation<tspan x="6432.5" dy="15">of DNA biosynthetic</tspan><tspan x="6432.5" dy="15">process</tspan></text></g>
</g>
</svg>
